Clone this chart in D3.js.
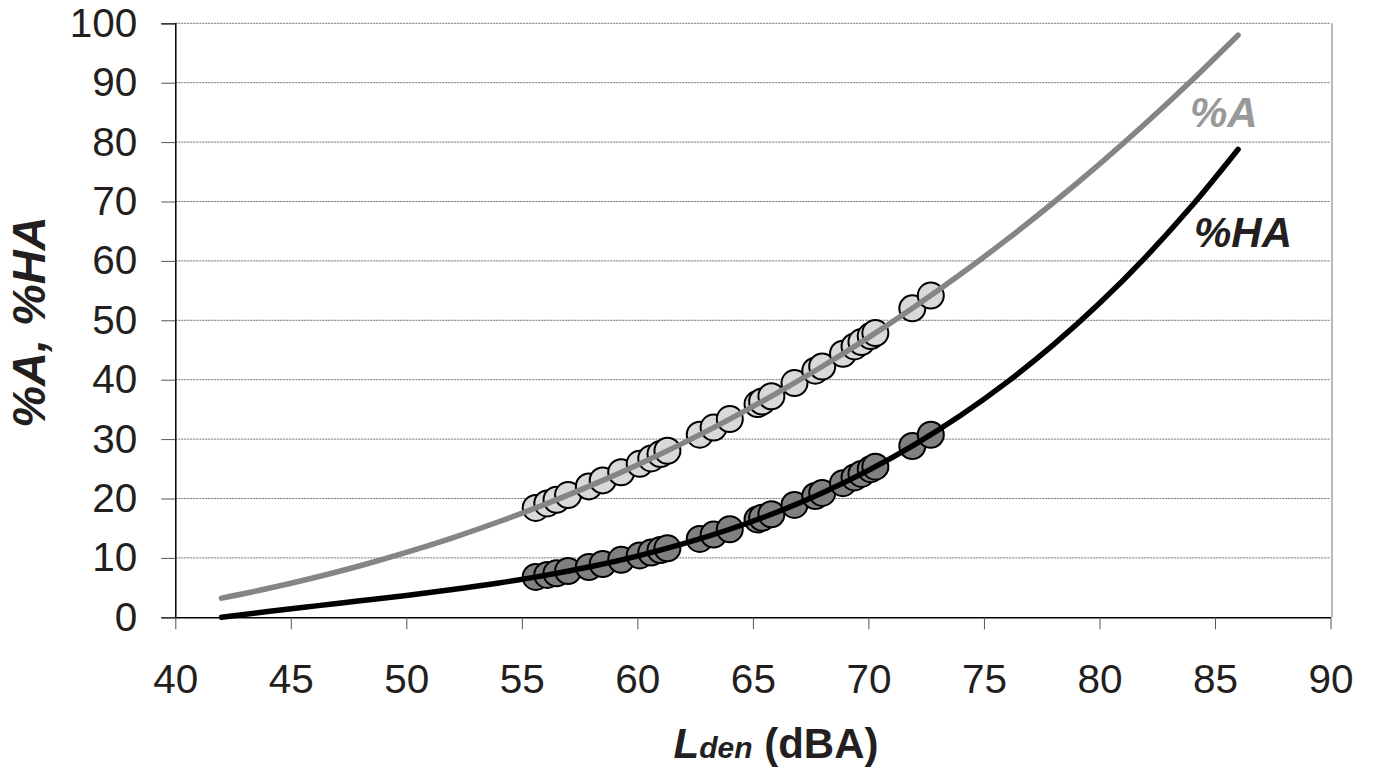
<!DOCTYPE html>
<html>
<head>
<meta charset="utf-8">
<script src="https://cdn.jsdelivr.net/npm/d3@7"></script>
<style>
  body { margin: 0; background: #fff; }
  text { font-family: "Liberation Sans", Arial, sans-serif; }
</style>
</head>
<body>
<div id="chart"></div>
<script>
// curve values, read every 2 dB
const curveL = [42, 44, 46, 48, 50, 52, 54, 56, 58, 60, 62, 64, 66, 68, 70, 72, 74, 76, 78, 80, 82, 84, 86];
const curveA = [3.23, 4.84, 6.66, 8.68, 10.92, 13.38, 16.08, 19.02, 22.21, 25.66, 29.37, 33.37, 37.65, 42.22, 47.09, 52.28, 57.78, 63.62, 69.79, 76.30, 83.17, 90.41, 98.01];
const curveHA = [0, 0.97, 1.88, 2.77, 3.68, 4.67, 5.78, 7.06, 8.56, 10.31, 12.39, 14.82, 17.65, 20.94, 24.73, 29.07, 34.01, 39.59, 45.85, 52.86, 60.65, 69.28, 78.78];

// observed points
const pointL = [55.6, 56.1, 56.5, 57.0, 57.9, 58.5, 59.3, 60.1, 60.6, 61.0, 61.3, 62.7, 63.3, 64.0, 65.2, 65.4, 65.8, 66.8, 67.7, 68.0, 68.9, 69.4, 69.7, 70.1, 70.3, 71.9, 72.7];
const pointA = [18.41, 19.17, 19.79, 20.58, 22.04, 23.05, 24.42, 25.84, 26.74, 27.48, 28.04, 30.74, 31.94, 33.37, 35.90, 36.33, 37.21, 39.44, 41.52, 42.22, 44.37, 45.60, 46.34, 47.34, 47.85, 52.01, 54.17];
const pointHA = [6.79, 7.13, 7.41, 7.78, 8.47, 8.97, 9.67, 10.41, 10.90, 11.31, 11.62, 13.19, 13.92, 14.82, 16.47, 16.76, 17.35, 18.91, 20.42, 20.94, 22.58, 23.54, 24.13, 24.94, 25.35, 28.84, 30.73];

const xTicks = [40, 45, 50, 55, 60, 65, 70, 75, 80, 85, 90];
const yTicks = [0, 10, 20, 30, 40, 50, 60, 70, 80, 90, 100];

const width = 1375;
const height = 771;
const margin = ({top: 23.3, right: 44.5, bottom: 153.7, left: 175.3});

const x = d3.scaleLinear().domain([40, 90]).range([margin.left, width - margin.right]);
const y = d3.scaleLinear().domain([0, 100]).range([height - margin.bottom, margin.top]);

const svg = d3.select("#chart").append("svg")
	.attr("width", width)
	.attr("height", height);

// grid lines
svg.append("g")
	.selectAll("line")
	.data(yTicks.filter(d => d > 0))
	.join("line")
		.attr("x1", x(40))
		.attr("x2", x(90))
		.attr("y1", d => y(d))
		.attr("y2", d => y(d))
		.attr("stroke", "#6e6e6e")
		.attr("stroke-width", 1)
		.attr("stroke-dasharray", "2,1");

// right border
svg.append("line")
	.attr("x1", x(90) + 1.5).attr("x2", x(90) + 1.5)
	.attr("y1", y(100)).attr("y2", y(0))
	.attr("stroke", "#8a8a8a")
	.attr("stroke-width", 1.2);

// axes
const yAxis = g => g
	.attr("transform", `translate(${margin.left},0)`)
	.call(d3.axisLeft(y).tickValues(yTicks).tickSize(14).tickPadding(24))
	.call(g => g.select(".domain").attr("stroke", "#000").attr("stroke-width", 1.5))
	.call(g => g.selectAll(".tick line").attr("stroke", "#555"))
	.call(g => g.selectAll(".tick text")
		.attr("font-size", 40.5)
		.attr("fill", "#231f20")
		.attr("font-family", "Liberation Sans, Arial, sans-serif"));

const xAxis = g => g
	.attr("transform", `translate(0,${height - margin.bottom})`)
	.call(d3.axisBottom(x).tickValues(xTicks).tickSize(12).tickPadding(35).tickSizeOuter(0))
	.call(g => g.select(".domain").attr("stroke", "#000").attr("stroke-width", 1.5))
	.call(g => g.selectAll(".tick line").attr("stroke", "#555"))
	.call(g => g.selectAll(".tick text")
		.attr("font-size", 40.5)
		.attr("fill", "#231f20")
		.attr("font-family", "Liberation Sans, Arial, sans-serif"));

svg.append("g").call(yAxis);
svg.append("g").call(xAxis);

// points
const pts = pointL.map((d, i) => ({L: d, a: pointA[i], ha: pointHA[i]}));

svg.append("g")
	.selectAll("circle")
	.data(pts)
	.join("circle")
		.attr("cx", d => x(d.L))
		.attr("cy", d => y(d.a))
		.attr("r", 13)
		.attr("fill", "#d9d9d9")
		.attr("stroke", "#000")
		.attr("stroke-width", 2);

svg.append("g")
	.selectAll("circle")
	.data(pts)
	.join("circle")
		.attr("cx", d => x(d.L))
		.attr("cy", d => y(d.ha))
		.attr("r", 13)
		.attr("fill", "#808080")
		.attr("stroke", "#000")
		.attr("stroke-width", 2);

// curves
const line = d3.line()
	.x(d => x(d[0]))
	.y(d => y(d[1]))
	.curve(d3.curveMonotoneX);

svg.append("path")
	.datum(curveL.map((d, i) => [d, curveA[i]]))
	.attr("d", line)
	.attr("fill", "none")
	.attr("stroke", "#858585")
	.attr("stroke-width", 5.5)
	.attr("stroke-linecap", "round");

svg.append("path")
	.datum(curveL.map((d, i) => [d, curveHA[i]]))
	.attr("d", line)
	.attr("fill", "none")
	.attr("stroke", "#000")
	.attr("stroke-width", 5.5)
	.attr("stroke-linecap", "round");

// curve labels
svg.append("text")
	.attr("x", 1190)
	.attr("y", 127)
	.attr("font-size", 42)
	.attr("font-weight", "bold")
	.attr("font-style", "italic")
	.attr("fill", "#999999")
	.text("%A");

svg.append("text")
	.attr("x", 1194)
	.attr("y", 247)
	.attr("font-size", 42)
	.attr("font-weight", "bold")
	.attr("font-style", "italic")
	.attr("fill", "#231f20")
	.text("%HA");

// axis titles
const xTitle = svg.append("text")
	.attr("x", 776)
	.attr("y", 758)
	.attr("text-anchor", "middle")
	.attr("font-weight", "bold")
	.attr("fill", "#231f20");
xTitle.append("tspan").attr("font-size", 42).attr("font-style", "italic").text("L");
xTitle.append("tspan").attr("font-size", 30).attr("font-style", "italic").text("den");
xTitle.append("tspan").attr("font-size", 42).text(" (dBA)");

svg.append("text")
	.attr("transform", "translate(45,322) rotate(-90)")
	.attr("text-anchor", "middle")
	.attr("font-size", 47)
	.attr("font-weight", "bold")
	.attr("font-style", "italic")
	.attr("fill", "#231f20")
	.text("%A, %HA");
</script>
</body>
</html>
